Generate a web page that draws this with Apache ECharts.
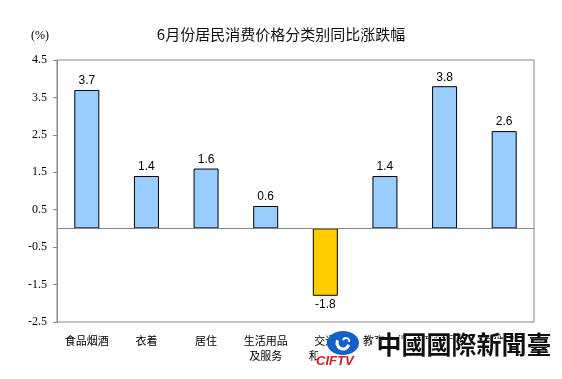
<!DOCTYPE html>
<html><head><meta charset="utf-8">
<script src="https://cdn.jsdelivr.net/npm/echarts@6/dist/echarts.min.js"></script>
<style>html,body{margin:0;padding:0;background:#fff}#c{width:562px;height:379px}</style>
</head><body><div id="c"></div>
<script>
var categories = ['食品烟酒','衣着','居住','生活用品\n及服务','交通\n和通信','教育文化\n和娱乐','医疗保健','其他用品\n和服务'];
var values = [3.7, 1.4, 1.6, 0.6, -1.8, 1.4, 3.8, 2.6];
var yTicks = [-2.5, -1.5, -0.5, 0.5, 1.5, 2.5, 3.5, 4.5];
var titleText = '6月份居民消费价格分类别同比涨跌幅';
var unitText = '(%)';

var serif = '"Liberation Serif", "Times New Roman", "DejaVu Serif", serif';
var chart = echarts.init(document.getElementById('c'), null, {renderer:'canvas'});
chart.setOption({
  animation:false,
  backgroundColor:'#fff',
  title:{text:titleText, left:'center', top:22,
    textStyle:{fontFamily:'Noto Sans CJK SC', fontSize:15, fontWeight:'normal', color:'#111'}},
  grid:{left:57, top:60, right:28, bottom:57, show:true, borderColor:'#888', borderWidth:1, backgroundColor:'transparent'},
  xAxis:{type:'category', data:categories,
    axisLine:{show:false}, axisTick:{show:false}, splitLine:{show:false},
    axisLabel:{margin:11, fontFamily:'Noto Sans CJK SC', fontSize:11, color:'#000', lineHeight:15, interval:0}},
  yAxis:{type:'value', min:yTicks[0], max:yTicks[yTicks.length-1], interval:1,
    name:unitText, nameLocation:'end', nameGap:18,
    nameTextStyle:{fontFamily:serif, fontSize:12, color:'#000', align:'right', padding:[0,8,0,0]},
    axisLine:{show:true, lineStyle:{color:'#888'}},
    axisTick:{show:true, length:4, lineStyle:{color:'#888'}},
    splitLine:{show:false},
    axisLabel:{margin:10, fontFamily:serif, fontSize:12, color:'#000',
      formatter:function(v){return v.toFixed(1);}}},
  series:[{
    type:'bar', data:values.map(function(v){
      return {value:v, itemStyle:{color: v<0 ? '#FFCC00' : '#99CCFF'},
        label:{position: v<0 ? 'bottom' : 'top'}};
    }),
    barWidth:25,
    itemStyle:{borderColor:'#000', borderWidth:1},
    label:{show:true, distance:3, fontFamily:'Liberation Sans', fontSize:12, color:'#000',
      formatter:function(p){return p.value.toFixed(1);}},
    markLine:{silent:true, symbol:'none', label:{show:false},
      lineStyle:{color:'#888', type:'solid', width:1}, data:[{yAxis:0}]}
  }],
  graphic:[
    {type:'rect', zlevel:1, z:100, shape:{x:372, y:339, width:184, height:24}, style:{fill:'#fff'}},
    {type:'rect', zlevel:1, z:100, shape:{x:318, y:347, width:54, height:20}, style:{fill:'#fff'}},
    {type:'ellipse', zlevel:1, z:101, shape:{cx:343, cy:343, rx:16, ry:12}, style:{fill:'#1560C8'}},
    {type:'arc', zlevel:1, z:102, shape:{cx:343, cy:343, r:6, startAngle:0.3, endAngle:3.6}, style:{stroke:'#fff', lineWidth:3, fill:null}},
    {type:'arc', zlevel:1, z:102, shape:{cx:346, cy:341, r:3, startAngle:3.4, endAngle:6.6}, style:{stroke:'#fff', lineWidth:2, fill:null}},
    {type:'text', zlevel:1, z:103, left:316, top:355, style:{text:'CIFTV', fontFamily:'Liberation Sans', fontWeight:'bold', fontStyle:'italic', fontSize:13, fill:'#D0202A'}},
    {type:'text', zlevel:1, z:103, left:376, top:331, style:{text:'中國國際新聞臺', fontFamily:'Noto Sans CJK TC', fontWeight:'bold', fontSize:25, fill:'#111', stroke:'#fff', lineWidth:1}}
  ]
});
</script></body></html>
